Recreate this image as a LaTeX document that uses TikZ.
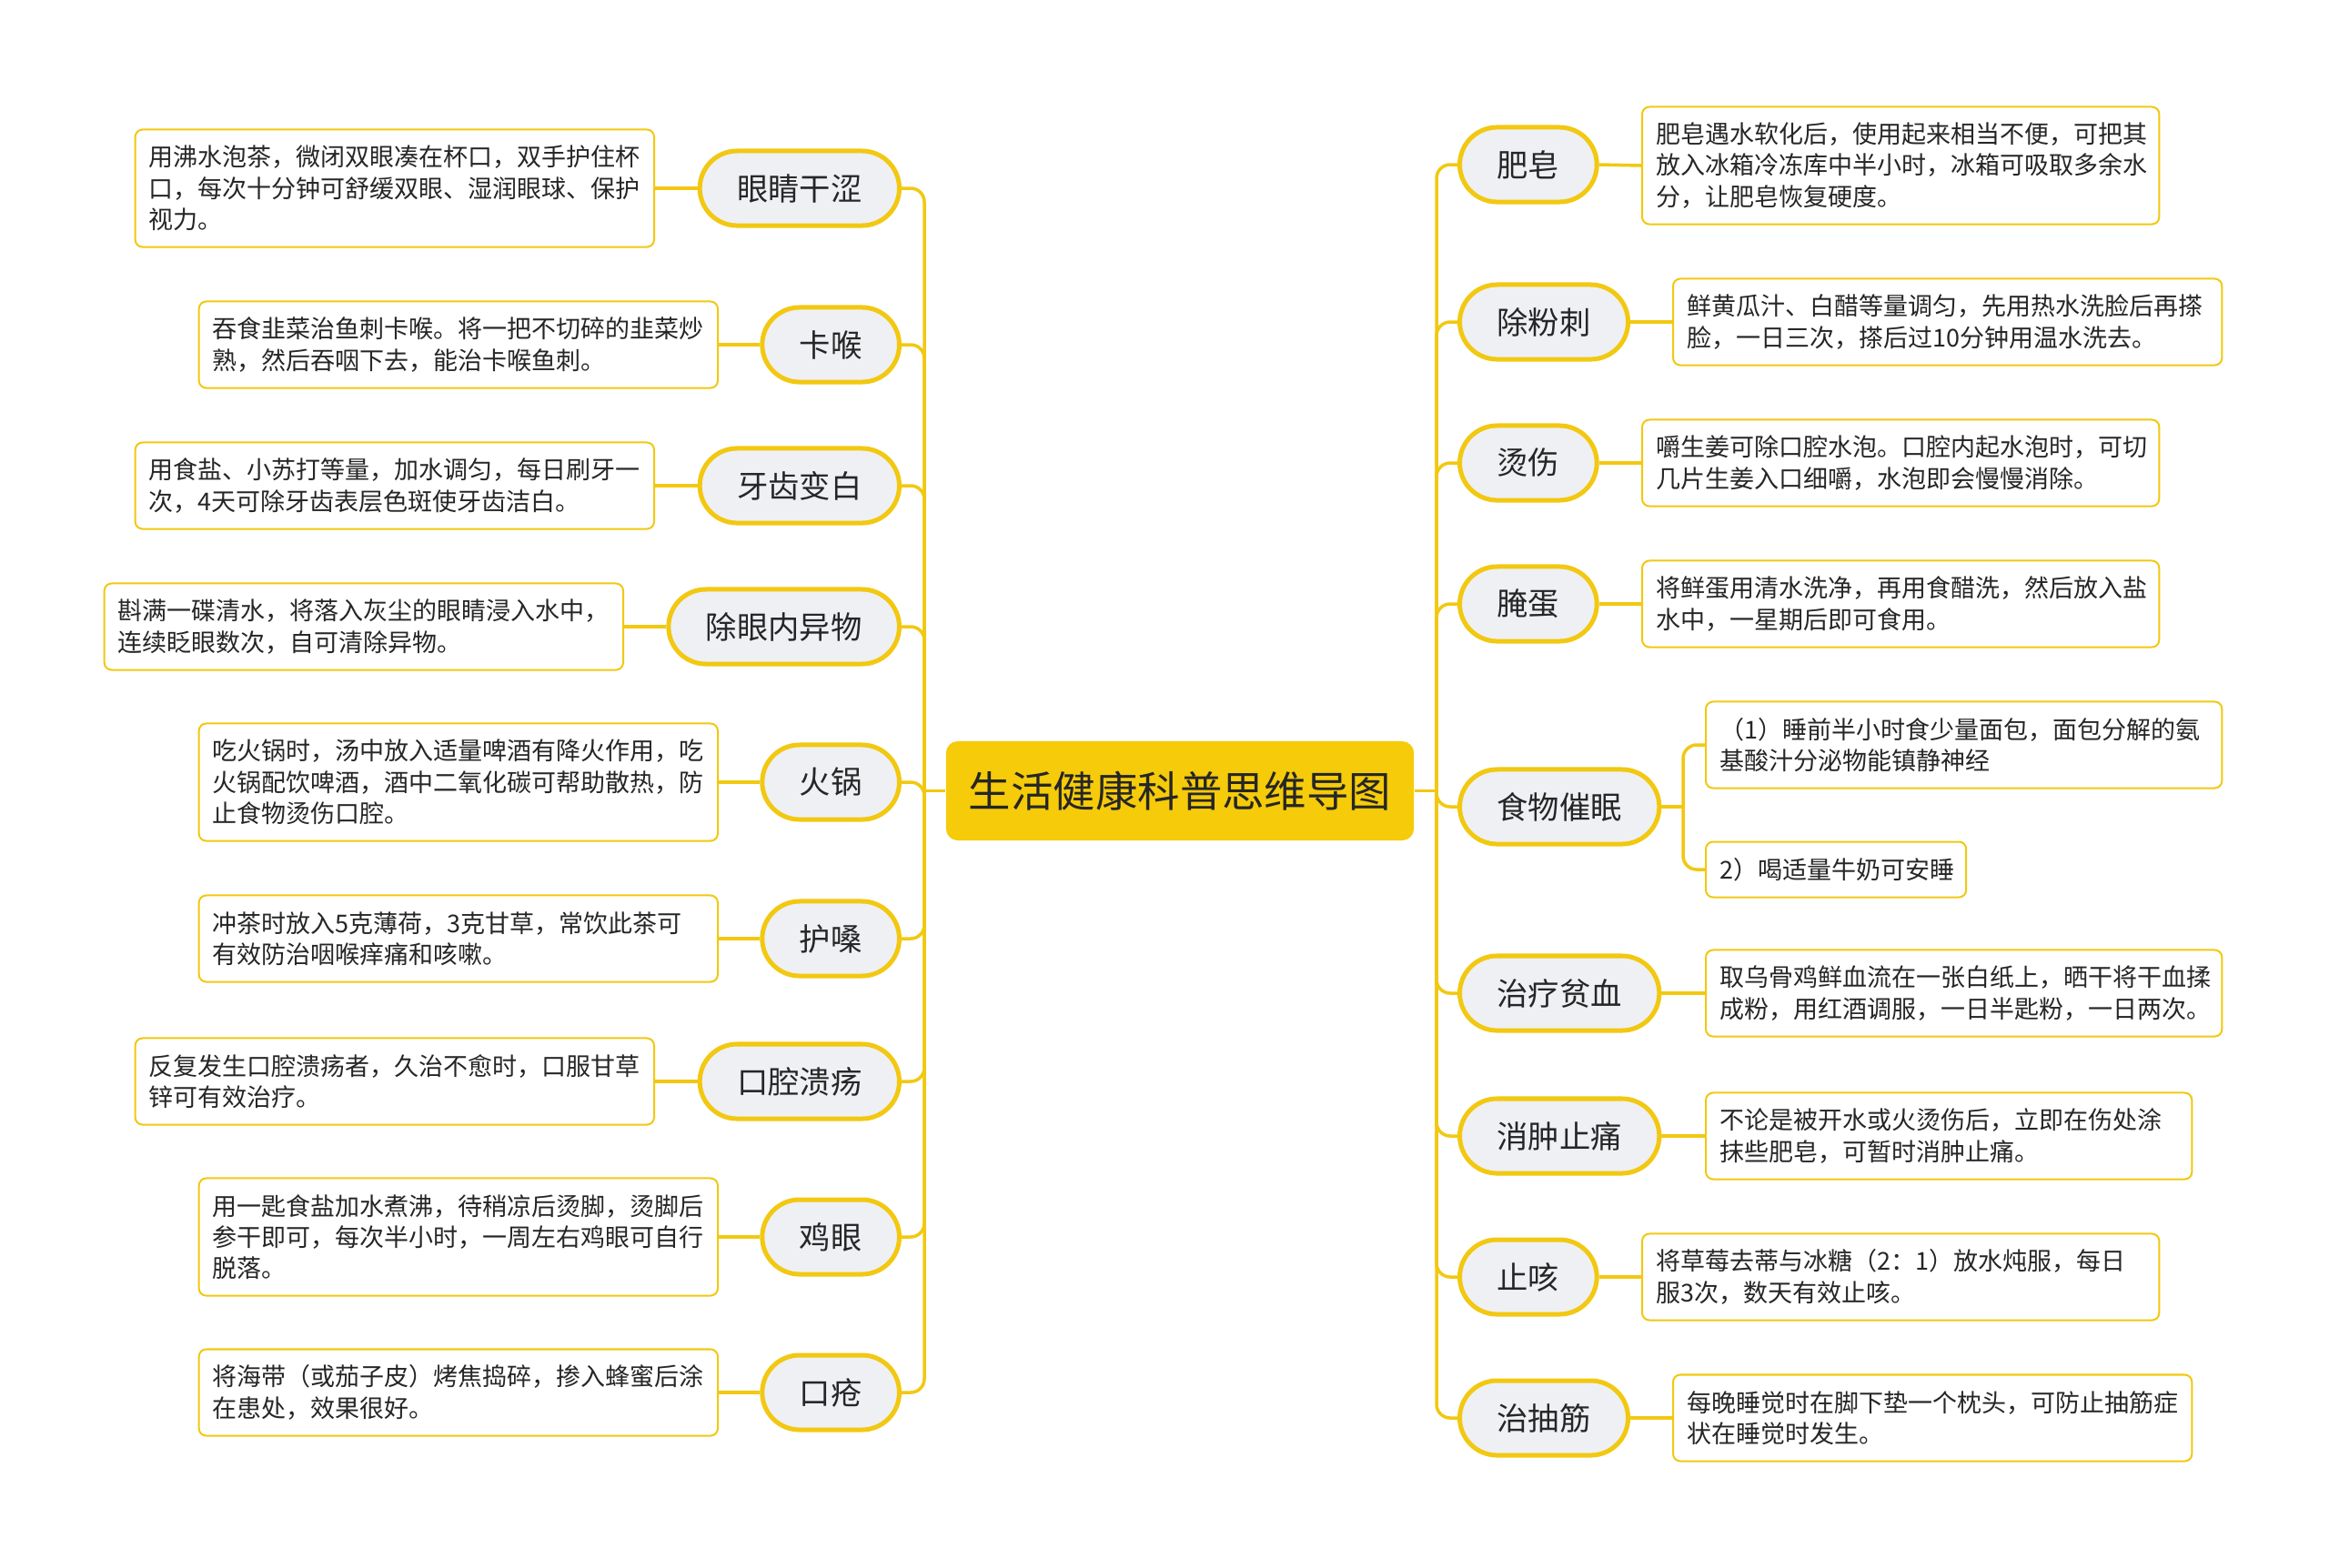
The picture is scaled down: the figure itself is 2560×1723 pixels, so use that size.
\documentclass[tikz,border=0pt]{standalone}
\usepackage{fontspec}
\setmainfont{Noto Sans CJK SC}
\definecolor{ylw}{HTML}{F2C811}
\definecolor{ctr}{HTML}{F5CB0A}
\definecolor{pillc}{HTML}{EEF0F4}
\definecolor{txt}{HTML}{262626}
\newcommand\detfont{\fontsize{7.68}{9.76}\selectfont}
\newcommand\topfont{\fontsize{9.76}{11.5}\selectfont}
\newcommand\ctrfont{\fontsize{13.2}{15}\selectfont}
\begin{document}
\begin{tikzpicture}[x=0.01cm,y=-0.01cm,
  conn/.style={draw=ylw,line width=0.035cm,rounded corners=0.15cm},
  topic/.style={draw=ylw,line width=0.05cm,fill=pillc,rounded corners=0.41cm,
    minimum height=0.82cm,inner xsep=0.41cm,inner ysep=0pt,font=\topfont,text=txt},
  det/.style={draw=ylw,line width=0.02cm,fill=white,rounded corners=0.08cm,
    align=left,inner xsep=0.15cm,inner ysep=0pt,font=\detfont,text=txt},
  dtwo/.style={det,minimum height=0.95cm},
  dthree/.style={det,minimum height=1.29cm},
  done/.style={det,minimum height=0.61cm},
  central/.style={fill=ctr,rounded corners=0.13cm,minimum width=5.14cm,
    minimum height=1.09cm,font=\ctrfont,text=txt,inner sep=0pt}]
\useasboundingbox[fill=white] (0,0) rectangle (2560,1723);

% central
\node[central] (c) at (1297,869.5) {生活健康科普思维导图};
\coordinate (lj) at (1016,869.5);
\coordinate (rj) at (1579,869.5);

% left topics
\node[topic,anchor=east] (t1) at (991,207) {眼睛干涩};
\node[topic,anchor=east] (t2) at (991,379) {卡喉};
\node[topic,anchor=east] (t3) at (991,534) {牙齿变白};
\node[topic,anchor=east] (t4) at (991,689) {除眼内异物};
\node[topic,anchor=east] (t5) at (991,860) {火锅};
\node[topic,anchor=east] (t6) at (991,1032) {护嗓};
\node[topic,anchor=east] (t7) at (991,1189) {口腔溃疡};
\node[topic,anchor=east] (t8) at (991,1360) {鸡眼};
\node[topic,anchor=east] (t9) at (991,1531) {口疮};

% left details
\node[dthree,anchor=east,text width=5.4cm] (b1) at (720,207) {用沸水泡茶，微闭双眼凑在杯口，双手护住杯\\口，每次十分钟可舒缓双眼、湿润眼球、保护\\视力。};
\node[dtwo,anchor=east,text width=5.4cm] (b2) at (790,379) {吞食韭菜治鱼刺卡喉。将一把不切碎的韭菜炒\\熟，然后吞咽下去，能治卡喉鱼刺。};
\node[dtwo,anchor=east,text width=5.4cm] (b3) at (720,534) {用食盐、小苏打等量，加水调匀，每日刷牙一\\次，4天可除牙齿表层色斑使牙齿洁白。};
\node[dtwo,anchor=east,text width=5.4cm] (b4) at (686,689) {斟满一碟清水，将落入灰尘的眼睛浸入水中，\\连续眨眼数次，自可清除异物。};
\node[dthree,anchor=east,text width=5.4cm] (b5) at (790,860) {吃火锅时，汤中放入适量啤酒有降火作用，吃\\火锅配饮啤酒，酒中二氧化碳可帮助散热，防\\止食物烫伤口腔。};
\node[dtwo,anchor=east,text width=5.4cm] (b6) at (790,1032) {冲茶时放入5克薄荷，3克甘草，常饮此茶可\\有效防治咽喉痒痛和咳嗽。};
\node[dtwo,anchor=east,text width=5.4cm] (b7) at (720,1189) {反复发生口腔溃疡者，久治不愈时，口服甘草\\锌可有效治疗。};
\node[dthree,anchor=east,text width=5.4cm] (b8) at (790,1360) {用一匙食盐加水煮沸，待稍凉后烫脚，烫脚后\\参干即可，每次半小时，一周左右鸡眼可自行\\脱落。};
\node[dtwo,anchor=east,text width=5.4cm] (b9) at (790,1531) {将海带（或茄子皮）烤焦捣碎，掺入蜂蜜后涂\\在患处，效果很好。};

% right topics
\node[topic,anchor=west] (s1) at (1602,181) {肥皂};
\node[topic,anchor=west] (s2) at (1602,354) {除粉刺};
\node[topic,anchor=west] (s3) at (1602,509) {烫伤};
\node[topic,anchor=west] (s4) at (1602,664) {腌蛋};
\node[topic,anchor=west] (s5) at (1602,887) {食物催眠};
\node[topic,anchor=west] (s6) at (1602,1092) {治疗贫血};
\node[topic,anchor=west] (s7) at (1602,1249) {消肿止痛};
\node[topic,anchor=west] (s8) at (1602,1404) {止咳};
\node[topic,anchor=west] (s9) at (1602,1559) {治抽筋};

% right details
\node[dthree,anchor=west,text width=5.38cm] (r1) at (1804,182) {肥皂遇水软化后，使用起来相当不便，可把其\\放入冰箱冷冻库中半小时，冰箱可吸取多余水\\分，让肥皂恢复硬度。};
\node[dtwo,anchor=west,text width=5.73cm] (r2) at (1838,354) {鲜黄瓜汁、白醋等量调匀，先用热水洗脸后再搽\\脸，一日三次，搽后过10分钟用温水洗去。};
\node[dtwo,anchor=west,text width=5.38cm] (r3) at (1804,509) {嚼生姜可除口腔水泡。口腔内起水泡时，可切\\几片生姜入口细嚼，水泡即会慢慢消除。};
\node[dtwo,anchor=west,text width=5.38cm] (r4) at (1804,664) {将鲜蛋用清水洗净，再用食醋洗，然后放入盐\\水中，一星期后即可食用。};
\node[dtwo,anchor=west,text width=5.37cm] (r5a) at (1874,819) {（1）睡前半小时食少量面包，面包分解的氨\\基酸汁分泌物能镇静神经};
\node[done,anchor=west,text width=2.56cm] (r5b) at (1874,956) {2）喝适量牛奶可安睡};
\node[dtwo,anchor=west,text width=5.37cm] (r6) at (1874,1092) {取乌骨鸡鲜血流在一张白纸上，晒干将干血揉\\成粉，用红酒调服，一日半匙粉，一日两次。};
\node[dtwo,anchor=west,text width=5.04cm] (r7) at (1874,1249) {不论是被开水或火烫伤后，立即在伤处涂\\抹些肥皂，可暂时消肿止痛。};
\node[dtwo,anchor=west,text width=5.38cm] (r8) at (1804,1404) {将草莓去蒂与冰糖（2：1）放水炖服，每日\\服3次，数天有效止咳。};
\node[dtwo,anchor=west,text width=5.40cm] (r9) at (1838,1559) {每晚睡觉时在脚下垫一个枕头，可防止抽筋症\\状在睡觉时发生。};

% connectors: centre to spines
\draw[conn] (c.west) -- (lj);
\draw[conn] (c.east) -- (rj);
\foreach \t in {t1,t2,t3,t4,t5,t6,t7,t8,t9}
  \draw[conn] (\t.east) -| (lj);
\foreach \s in {s1,s2,s3,s4,s5,s6,s7,s8,s9}
  \draw[conn] (rj) |- (\s.west);
% topic to detail
\foreach \b/\t in {b1/t1,b2/t2,b3/t3,b4/t4,b5/t5,b6/t6,b7/t7,b8/t8,b9/t9}
  \draw[conn] (\b.east) -- (\t.west);
\foreach \s/\r in {s1/r1,s2/r2,s3/r3,s4/r4,s6/r6,s7/r7,s8/r8,s9/r9}
  \draw[conn] (\s.east) -- (\r.west);
\coordinate (fj) at (1850,887);
\draw[conn] (s5.east) -- (fj);
\draw[conn] (fj) |- (r5a.west);
\draw[conn] (fj) |- (r5b.west);
\end{tikzpicture}
\end{document}
